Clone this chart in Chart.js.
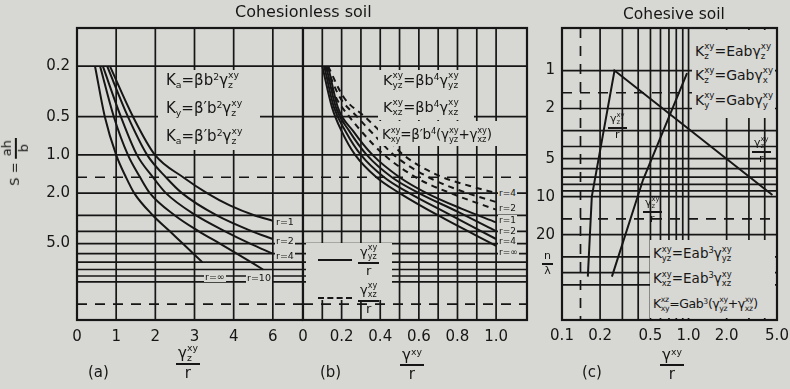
<!DOCTYPE html>
<html><head><meta charset="utf-8">
<script src="https://cdn.jsdelivr.net/npm/chart.js@4.4.0/dist/chart.umd.min.js"></script>
<style>
html,body{margin:0;padding:0;background:#d7d7d3;width:790px;height:389px;overflow:hidden;}
#wrap{position:relative;width:790px;height:389px;font-family:"DejaVu Sans",sans-serif;color:#161616;overflow:hidden;}
canvas{position:absolute;top:0;}
.t{position:absolute;white-space:nowrap;line-height:20px;}
.box{position:absolute;background:#d7d7d3;}
.sp{font-size:0.62em;vertical-align:0.55em;line-height:0;}
.sb{font-size:0.62em;vertical-align:-0.3em;line-height:0;}
.ss{display:inline-block;font-size:0.62em;line-height:1.1;vertical-align:-0.35em;text-align:left;}
.ss>span{display:block;}
.fr{display:inline-flex;flex-direction:column;align-items:center;vertical-align:middle;line-height:1.15;}
.fr>.n{border-bottom:2px solid #161616;padding:0 2px;}
.lab{position:absolute;white-space:nowrap;font-size:9.5px;line-height:10px;background:#d7d7d3;padding:0 1px;}
</style></head>
<body>
<div id="wrap">
<canvas id="ca" width="303" height="389" style="left:0px"></canvas>
<canvas id="cb" width="260" height="389" style="left:273px"></canvas>
<canvas id="cc" width="280" height="389" style="left:527px"></canvas>

<div class="t" style="left:235px;top:2px;font-size:16px">Cohesionless soil</div>
<div class="t" style="left:623px;top:4px;font-size:15.5px">Cohesive soil</div>

<!-- panel (a) formulas -->
<div class="box" style="left:158px;top:70px;width:102px;height:80px"></div>
<div class="t" style="left:166px;top:70px;font-size:15px">K<span class="sb">a</span>=βb<span class="sp">2</span>γ<span class="ss"><span>xy</span><span>z</span></span></div>
<div class="t" style="left:166px;top:98px;font-size:15px">K<span class="sb">y</span>=β′b<span class="sp">2</span>γ<span class="ss"><span>xy</span><span>z</span></span></div>
<div class="t" style="left:166px;top:126px;font-size:15px">K<span class="sb">a</span>=β′b<span class="sp">2</span>γ<span class="ss"><span>xy</span><span>z</span></span></div>

<!-- panel (b) formulas -->
<div class="box" style="left:378px;top:70px;width:96px;height:50px"></div>
<div class="box" style="left:378px;top:121px;width:147px;height:25px"></div>
<div class="t" style="left:383px;top:70px;font-size:14.5px">K<span class="ss"><span>xy</span><span>yz</span></span>=βb<span class="sp">4</span>γ<span class="ss"><span>xy</span><span>yz</span></span></div>
<div class="t" style="left:383px;top:97px;font-size:14.5px">K<span class="ss"><span>xy</span><span>xz</span></span>=βb<span class="sp">4</span>γ<span class="ss"><span>xy</span><span>xz</span></span></div>
<div class="t" style="left:382px;top:124px;font-size:13.5px;letter-spacing:-0.2px">K<span class="ss"><span>xy</span><span>xy</span></span>=β′b<span class="sp">4</span>(γ<span class="ss"><span>xy</span><span>yz</span></span>+γ<span class="ss"><span>xy</span><span>xz</span></span>)</div>

<!-- panel (b) legend -->
<div class="box" style="left:306px;top:243px;width:86px;height:57px"></div>
<div style="position:absolute;left:318px;top:259px;width:34px;border-top:2px solid #161616"></div>
<div class="t" style="left:358px;top:244px;font-size:13px"><span class="fr"><span class="n">γ<span class="ss"><span>xy</span><span>yz</span></span></span><span>r</span></span></div>
<div style="position:absolute;left:318px;top:297px;width:34px;border-top:2px dashed #161616"></div>
<div class="t" style="left:358px;top:282px;font-size:13px"><span class="fr"><span class="n">γ<span class="ss"><span>xy</span><span>xz</span></span></span><span>r</span></span></div>

<!-- panel (c) formulas -->
<div class="box" style="left:692px;top:30px;width:83px;height:88px"></div>
<div class="t" style="left:695px;top:41px;font-size:14px">K<span class="ss"><span>xy</span><span>z</span></span>=Eabγ<span class="ss"><span>xy</span><span>z</span></span></div>
<div class="t" style="left:695px;top:65px;font-size:14px">K<span class="ss"><span>xy</span><span>z</span></span>=Gabγ<span class="ss"><span>xy</span><span>x</span></span></div>
<div class="t" style="left:695px;top:90px;font-size:14px">K<span class="ss"><span>xy</span><span>y</span></span>=Gabγ<span class="ss"><span>xy</span><span>y</span></span></div>

<div class="box" style="left:650px;top:240px;width:125px;height:78px"></div>
<div class="t" style="left:653px;top:243px;font-size:13.5px">K<span class="ss"><span>xy</span><span>yz</span></span>=Eab<span class="sp">3</span>γ<span class="ss"><span>xy</span><span>yz</span></span></div>
<div class="t" style="left:653px;top:268px;font-size:13.5px">K<span class="ss"><span>xy</span><span>xz</span></span>=Eab<span class="sp">3</span>γ<span class="ss"><span>xy</span><span>xz</span></span></div>
<div class="t" style="left:653px;top:294px;font-size:12.5px;letter-spacing:-0.4px">K<span class="ss"><span>xz</span><span>xy</span></span>=Gab<span class="sp">3</span>(γ<span class="ss"><span>xy</span><span>yz</span></span>+γ<span class="ss"><span>xy</span><span>xz</span></span>)</div>

<!-- panel (c) curve labels -->
<div class="t" style="left:608px;top:112px;font-size:11px"><span class="fr"><span class="n">γ<span class="ss"><span>xy</span><span>z</span></span></span><span>r</span></span></div>
<div class="t" style="left:752px;top:136px;font-size:11px"><span class="fr"><span class="n">γ<span class="ss"><span>xy</span><span>z</span></span></span><span>r</span></span></div>
<div class="t" style="left:643px;top:196px;font-size:11px"><span class="fr"><span class="n">γ<span class="ss"><span>xy</span><span>z</span></span></span><span>r</span></span></div>

<!-- panel (a) curve labels -->
<div class="lab" style="left:275px;top:217px">r=1</div>
<div class="lab" style="left:275px;top:236px">r=2</div>
<div class="lab" style="left:275px;top:251px">r=4</div>
<div class="lab" style="left:246px;top:273px">r=10</div>
<div class="lab" style="left:204px;top:272px">r=∞</div>

<!-- panel (b) curve labels -->
<div class="lab" style="left:498px;top:188px;font-size:9px">r=4</div>
<div class="lab" style="left:498px;top:203px;font-size:9px">r=2</div>
<div class="lab" style="left:498px;top:215px;font-size:9px">r=1</div>
<div class="lab" style="left:498px;top:226px;font-size:9px">r=2</div>
<div class="lab" style="left:498px;top:236px;font-size:9px">r=4</div>
<div class="lab" style="left:498px;top:247px;font-size:9px">r=∞</div>

<!-- axis titles -->
<div class="t" style="left:-8px;top:146px;font-size:13px;transform:rotate(-90deg)">S = <span class="fr"><span class="n">ah</span><span>b</span></span></div>
<div class="t" style="left:542px;top:250px;font-size:11px"><span class="fr"><span class="n">n</span><span>λ</span></span></div>

<div class="t" style="left:88px;top:362px;font-size:15px">(a)</div>
<div class="t" style="left:176px;top:343px;font-size:15px"><span class="fr"><span class="n">γ<span class="ss"><span>xy</span><span>z</span></span></span><span>r</span></span></div>
<div class="t" style="left:320px;top:362px;font-size:15px">(b)</div>
<div class="t" style="left:400px;top:347px;font-size:15px"><span class="fr"><span class="n">γ<span class="sp">xy</span></span><span>r</span></span></div>
<div class="t" style="left:582px;top:362px;font-size:15px">(c)</div>
<div class="t" style="left:660px;top:347px;font-size:15px"><span class="fr"><span class="n">γ<span class="sp">xy</span></span><span>r</span></span></div>
</div>

<script>
// ---------- tick values and labels ----------
const yTicksAB = [0.2, 0.5, 1, 2, 5];
const yTickLabelsAB = ['0.2', '0.5', '1.0', '2.0', '5.0'];
const xTicksA = [0, 1, 2, 3, 4, 5];
const xTickLabelsA = ['0', '1', '2', '3', '4', '6'];
const xTicksB = [0, 0.2, 0.4, 0.6, 0.8, 1.0];
const xTickLabelsB = ['0', '0.2', '0.4', '0.6', '0.8', '1.0'];
const xTicksC = [0.1, 0.2, 0.5, 1, 2, 5];
const xTickLabelsC = ['0.1', '0.2', '0.5', '1.0', '2.0', '5.0'];
const yTicksC = [1, 2, 5, 10, 20];
const yTickLabelsC = ['1', '2', '5', '10', '20'];

// ---------- graph-paper rulings (data units) ----------
const hGridAB = [0.2, 0.5, 1, 2, 3, 4, 5, 6, 7, 8, 9, 10];
const hDashAB = [1.5, 15];
const vGridA = [1, 2, 3, 4, 5];
const vGridB = [0, 0.1, 0.2, 0.3, 0.4, 0.5, 0.6, 0.7, 0.8, 0.9, 1.0];
const hGridC = [1, 2, 3, 4, 5, 6, 7, 8, 9, 10, 20, 30, 40, 50];
const hDashC = [1.5, 15];
const vGridC = [0.2, 0.3, 0.4, 0.5, 0.6, 0.7, 0.8, 0.9, 1, 2, 3, 4];
const vDashC = [0.14];

// ---------- panel (a): s vs gamma_z/r, solid curves [x, s] ----------
const aRinf = [[0.46,0.2],[0.71,0.5],[1.00,1.0],[1.25,1.5],[1.46,2.0],[1.94,3.0],[2.37,4.0],[2.70,5.0],[3.20,7.0]];
const aR10  = [[0.59,0.2],[0.94,0.5],[1.30,1.0],[1.61,1.5],[1.86,2.0],[2.50,3.0],[3.11,4.0],[3.65,5.0],[4.08,6.0],[4.75,8.0]];
const aR4   = [[0.66,0.2],[1.12,0.5],[1.53,1.0],[1.94,1.5],[2.27,2.0],[3.04,3.0],[3.78,4.0],[4.42,5.0],[5.00,6.0]];
const aR2   = [[0.77,0.2],[1.30,0.5],[1.79,1.0],[2.27,1.5],[2.68,2.0],[3.57,3.0],[4.47,4.0],[5.00,4.6]];
const aR1   = [[0.84,0.2],[1.43,0.5],[1.99,1.0],[2.71,1.5],[3.32,2.0],[3.90,2.5],[4.54,3.0],[5.00,3.3]];

// ---------- panel (b): solid = gamma_yz/r, dashed = gamma_xz/r ----------
const bS1 = [[0.10,0.2],[0.15,0.42],[0.20,0.65],[0.27,1.0],[0.38,1.5],[0.50,2.0],[0.70,3.0],[1.0,5.2]];
const bS2 = [[0.11,0.2],[0.16,0.42],[0.22,0.65],[0.30,1.0],[0.42,1.5],[0.55,2.0],[0.75,2.9],[1.0,4.6]];
const bS3 = [[0.12,0.2],[0.17,0.42],[0.24,0.65],[0.33,1.0],[0.46,1.5],[0.60,2.0],[0.80,2.8],[1.0,4.0]];
const bS4 = [[0.13,0.2],[0.18,0.42],[0.26,0.65],[0.36,1.0],[0.50,1.5],[0.64,2.0],[0.82,2.65],[1.0,3.4]];
const bD1 = [[0.11,0.2],[0.17,0.35],[0.24,0.5],[0.32,0.7],[0.42,1.0],[0.60,1.55],[0.80,2.1],[1.0,2.7]];
const bD2 = [[0.12,0.2],[0.19,0.35],[0.28,0.5],[0.37,0.7],[0.47,1.0],[0.65,1.5],[0.83,1.95],[1.0,2.35]];
const bD3 = [[0.13,0.2],[0.21,0.35],[0.32,0.5],[0.42,0.7],[0.52,1.0],[0.70,1.45],[0.86,1.75],[1.0,2.0]];

// ---------- panel (c): cohesive soil, straight segments ----------
const cLine1 = [[0.16,43],[0.172,10],[0.26,1.0],[4.6,9.7]];
const cLine2 = [[0.248,43],[0.437,7.35],[0.973,1.05]];

// ---------- helpers ----------
const INK = '#161616';
const FONT = '"DejaVu Sans", sans-serif';
const pts = a => a.map(p => ({x: p[0], y: p[1]}));
const setTicks = vals => s => { s.ticks = vals.map(v => ({value: v})); };

function curve(arr, dashed, smooth) {
  return {
    data: pts(arr), borderColor: INK, borderWidth: 2, pointRadius: 0,
    borderDash: dashed ? [6, 5] : [], fill: false,
    tension: smooth ? 0.4 : 0, cubicInterpolationMode: smooth ? 'monotone' : 'default'
  };
}

const paperGrid = {
  id: 'paperGrid',
  beforeDatasetsDraw(chart, args, o) {
    const {ctx, chartArea: a, scales: {x, y}} = chart;
    ctx.save();
    ctx.strokeStyle = INK;
    const seg = (x1, y1, x2, y2, w, dash) => {
      ctx.beginPath(); ctx.lineWidth = w; ctx.setLineDash(dash || []);
      ctx.moveTo(x1, y1); ctx.lineTo(x2, y2); ctx.stroke();
    };
    (o.h || []).forEach(v => { const p = y.getPixelForValue(v); seg(a.left, p, a.right, p, 1.7); });
    (o.hd || []).forEach(v => { const p = y.getPixelForValue(v); seg(a.left, p, a.right, p, 1.7, [10, 8]); });
    (o.v || []).forEach(v => { const p = x.getPixelForValue(v); seg(p, a.top, p, a.bottom, 1.7); });
    (o.vd || []).forEach(v => { const p = x.getPixelForValue(v); seg(p, a.top, p, a.bottom, 1.7, [10, 8]); });
    ctx.setLineDash([]);
    ctx.lineWidth = 2.2;
    ctx.strokeRect(a.left, a.top, a.right - a.left, a.bottom - a.top);
    ctx.restore();
  }
};

const tickFont = {size: 15, family: FONT};
function base(padding, grid) {
  return {
    responsive: false, animation: false, devicePixelRatio: 1,
    layout: {padding},
    plugins: {legend: {display: false}, tooltip: {enabled: false}, paperGrid: grid}
  };
}
function axis(type, min, max, vals, labels, fitFn, pad, extra) {
  return Object.assign({
    type, min, max,
    afterBuildTicks: vals ? setTicks(vals) : undefined,
    afterFit: fitFn,
    grid: {display: false, drawTicks: false},
    border: {display: false},
    ticks: {autoSkip: false, maxRotation: 0, minRotation: 0, padding: pad, color: INK, font: tickFont,
            display: !!vals, callback: (v, i) => labels ? labels[i] : ''}
  }, extra || {});
}

// ---------- chart (a) ----------
const optA = base({top: 28, right: 0, left: 0, bottom: 0}, {h: hGridAB, hd: hDashAB, v: vGridA});
optA.scales = {
  x: axis('linear', 0, 5.77, xTicksA, xTickLabelsA, s => { s.height = 69; }, 8),
  y: axis('logarithmic', 0.1, 20, yTicksAB, yTickLabelsAB, s => { s.width = 77; }, 7, {reverse: true})
};
new Chart(document.getElementById('ca'), {
  type: 'line',
  data: {datasets: [curve(aRinf,false,true), curve(aR10,false,true), curve(aR4,false,true), curve(aR2,false,true), curve(aR1,false,true)]},
  options: optA, plugins: [paperGrid]
});

// ---------- chart (b) ----------
const optB = base({top: 28, right: 6, left: 0, bottom: 0}, {h: hGridAB, hd: hDashAB, v: vGridB});
optB.scales = {
  x: axis('linear', 0, 1.16, xTicksB, xTickLabelsB, s => { s.height = 69; }, 8),
  y: axis('logarithmic', 0.1, 20, null, null, s => { s.width = 30; }, 0, {reverse: true})
};
new Chart(document.getElementById('cb'), {
  type: 'line',
  data: {datasets: [curve(bS1,false,true), curve(bS2,false,true), curve(bS3,false,true), curve(bS4,false,true),
                    curve(bD1,true,true), curve(bD2,true,true), curve(bD3,true,true)]},
  options: optB, plugins: [paperGrid]
});

// ---------- chart (c) ----------
const optC = base({top: 28, right: 30, left: 0, bottom: 0}, {h: hGridC, hd: hDashC, v: vGridC, vd: vDashC});
optC.scales = {
  x: axis('logarithmic', 0.1, 5, xTicksC, xTickLabelsC, s => { s.height = 69; }, 7),
  y: axis('logarithmic', 0.46, 95, yTicksC, yTickLabelsC, s => { s.width = 35; }, 7, {reverse: true})
};
new Chart(document.getElementById('cc'), {
  type: 'line',
  data: {datasets: [curve(cLine1,false,false), curve(cLine2,false,false)]},
  options: optC, plugins: [paperGrid]
});
</script>
</body></html>
